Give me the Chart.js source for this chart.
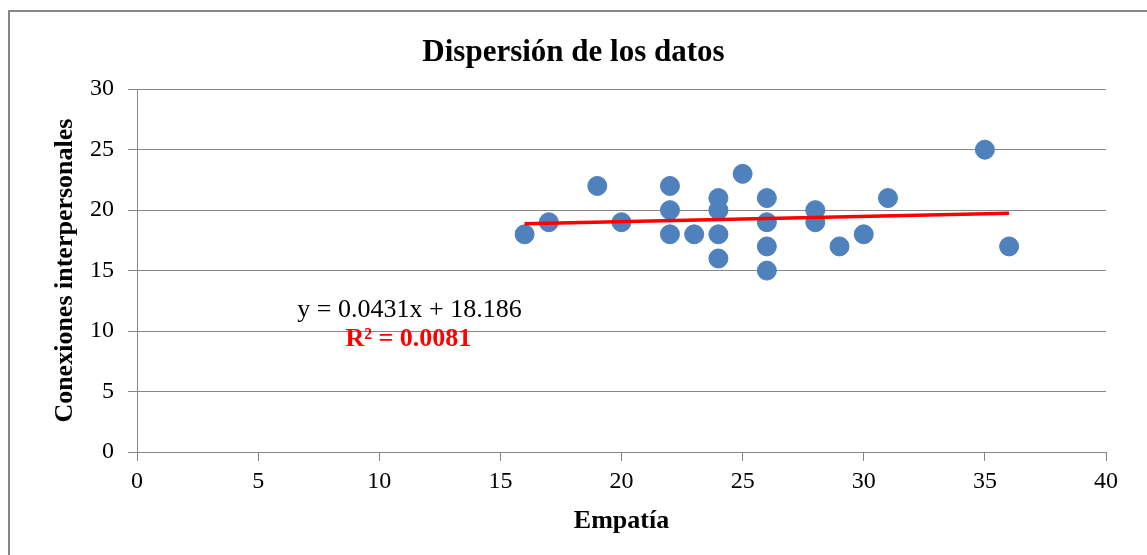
<!DOCTYPE html>
<html>
<head>
<meta charset="utf-8">
<script src="https://cdn.jsdelivr.net/npm/chart.js@4/dist/chart.umd.min.js"></script>
<style>
  html, body { margin: 0; padding: 0; background: #fff; }
  #wrap { width: 1147px; height: 555px; position: relative; }
</style>
</head>
<body>
<div id="wrap"><canvas id="chart"></canvas></div>
<script>
// Data
const empatia = [16, 17, 19, 20, 22, 22, 22, 23, 24, 24, 24, 24, 25, 26, 26, 26, 26, 28, 28, 29, 30, 31, 35, 36];
const conexiones = [18, 19, 22, 19, 22, 20, 18, 18, 21, 20, 18, 16, 23, 21, 19, 17, 15, 20, 19, 17, 18, 21, 25, 17];

// Trend line ends (y = 0.0431x + 18.186 at x = 16 and x = 36)
const trendX = [16, 36];
const trendY = [18.876, 19.738];

const eqText = 'y = 0.0431x + 18.186';
const r2Text = 'R² = 0.0081';
const eqPos = [11.25, 11.75];
const r2Pos = [11.2, 9.35];

const GRAY = '#868686';
const SERIF = '"Liberation Serif", "Times New Roman", serif';

const framePlugin = {
    id: 'frame',
    beforeDraw(chart) {
        const ctx = chart.ctx;
        ctx.save();
        ctx.fillStyle = '#fff';
        ctx.fillRect(0, 0, chart.width, chart.height);
        ctx.strokeStyle = GRAY;
        ctx.lineWidth = 2;
        ctx.strokeRect(9, 11, chart.width + 20, chart.height + 20);
        ctx.restore();
    }
};

const equationPlugin = {
    id: 'equation',
    afterDraw(chart) {
        const { ctx, scales: { x, y } } = chart;
        ctx.save();
        ctx.textAlign = 'center';
        ctx.textBaseline = 'middle';
        ctx.fillStyle = '#000';
        ctx.font = `26px ${SERIF}`;
        ctx.fillText(eqText, x.getPixelForValue(eqPos[0]), y.getPixelForValue(eqPos[1]));
        ctx.fillStyle = '#ff0000';
        ctx.font = `bold 26px ${SERIF}`;
        ctx.fillText(r2Text, x.getPixelForValue(r2Pos[0]), y.getPixelForValue(r2Pos[1]));
        ctx.restore();
    }
};

const points = empatia.map((v, i) => ({ x: v, y: conexiones[i] }));
const trend = trendX.map((v, i) => ({ x: v, y: trendY[i] }));

new Chart(document.getElementById('chart'), {
    type: 'scatter',
    data: {
        datasets: [
            {
                type: 'line',
                label: 'Lineal',
                data: trend,
                borderColor: '#ff0000',
                borderWidth: 3.5,
                pointRadius: 0,
                fill: false,
                order: 0
            },
            {
                label: 'Datos',
                data: points,
                backgroundColor: '#4f81bd',
                borderColor: '#4f81bd',
                pointRadius: 9.5,
                pointHoverRadius: 9.5,
                order: 1
            }
        ]
    },
    options: {
        responsive: true,
        maintainAspectRatio: false,
        animation: false,
        layout: { padding: 0 },
        plugins: {
            legend: { display: false },
            tooltip: { enabled: false },
            title: {
                display: true,
                text: 'Dispersión de los datos',
                color: '#000',
                font: { family: SERIF, size: 31, weight: 'bold' },
                padding: { top: 34, bottom: 18 }
            }
        },
        scales: {
            x: {
                type: 'linear',
                min: 0,
                max: 40,
                ticks: {
                    stepSize: 5,
                    color: '#000',
                    padding: 6,
                    font: { family: SERIF, size: 24 }
                },
                grid: {
                    drawOnChartArea: false,
                    color: GRAY,
                    tickLength: 9
                },
                border: { color: GRAY, width: 1 },
                title: {
                    display: true,
                    text: 'Empatía',
                    color: '#000',
                    font: { family: SERIF, size: 26, weight: 'bold' },
                    padding: { top: 0, bottom: 18 }
                },
                // keep the plot's right edge where the reference has it
                afterFit(scale) { scale.height = 103; scale.paddingRight = 41; }
            },
            y: {
                type: 'linear',
                min: 0,
                max: 30,
                ticks: {
                    stepSize: 5,
                    color: '#000',
                    padding: 14,
                    font: { family: SERIF, size: 24 }
                },
                grid: {
                    color: GRAY,
                    tickLength: 9
                },
                border: { color: GRAY, width: 1 },
                title: {
                    display: true,
                    text: 'Conexiones interpersonales',
                    color: '#000',
                    font: { family: SERIF, size: 26, weight: 'bold' },
                    padding: { top: 50, bottom: 0 }
                },
                afterFit(scale) { scale.width = 137; }
            }
        }
    },
    plugins: [framePlugin, equationPlugin]
});
</script>
</body>
</html>
